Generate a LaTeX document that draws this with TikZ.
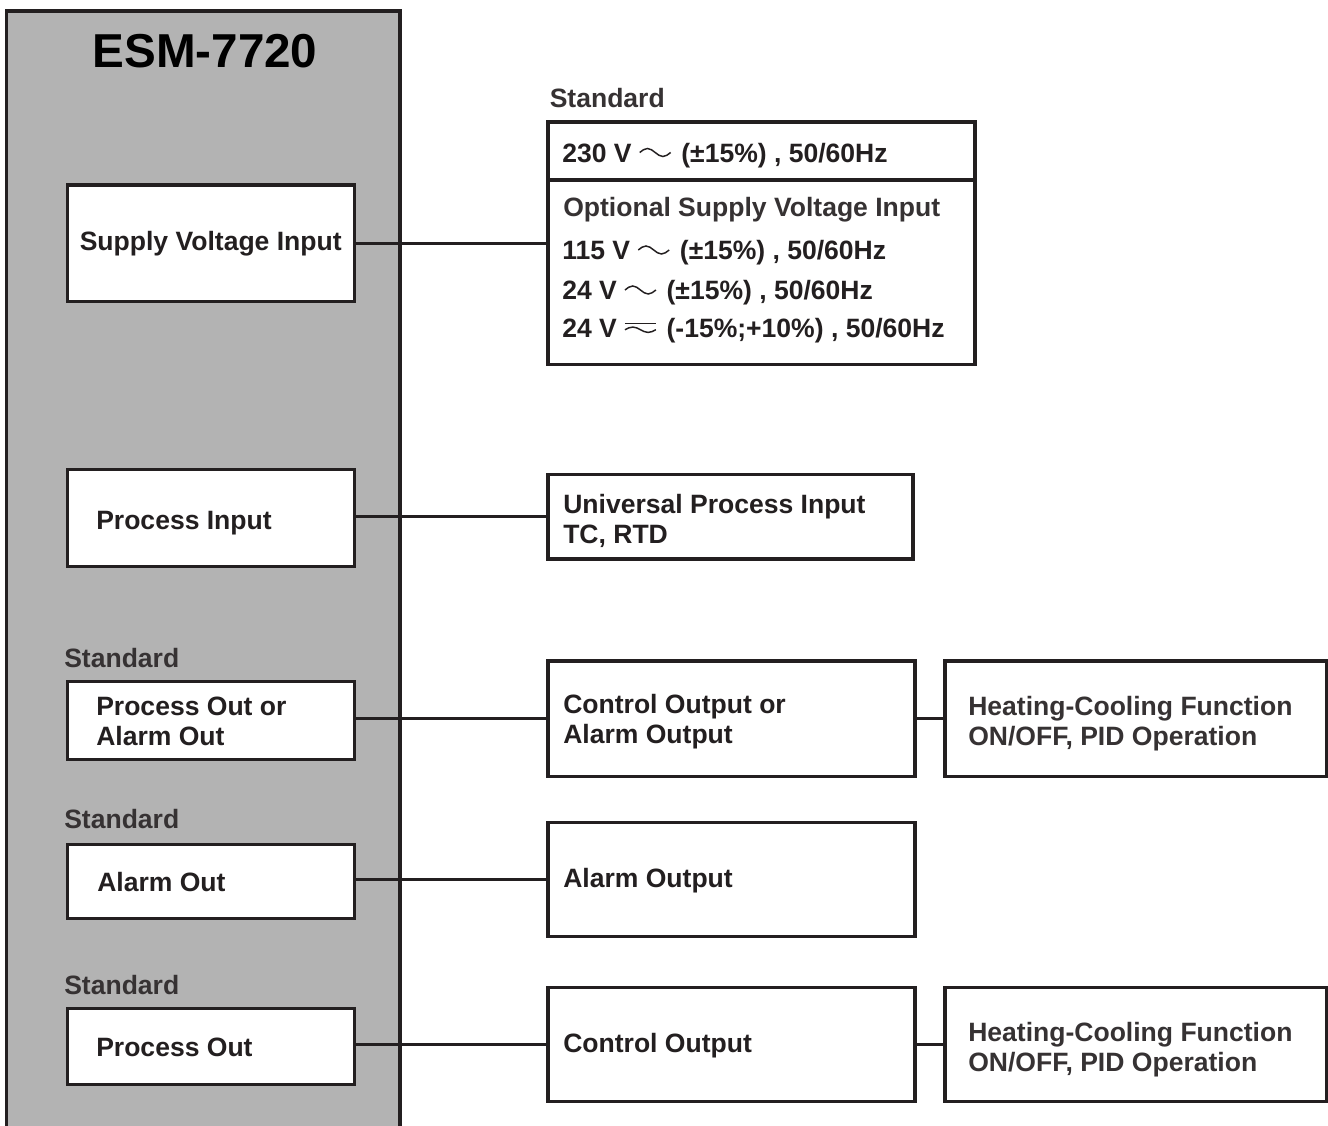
\documentclass[tikz,border=0pt]{standalone}
\usepackage{fontspec}
\setmainfont{Liberation Sans}
\usetikzlibrary{fit,calc}
\definecolor{ink}{HTML}{231F20}
\definecolor{inkl}{HTML}{363233}
\definecolor{panel}{HTML}{B3B3B3}
\newcommand{\acw}{\tikz[baseline=0pt,x=1pt,y=1pt]\draw[line width=1.1pt,ink] (0,7.5) sin (5.8,10.5) cos (11.6,7.5) sin (17.4,4.5) cos (23.2,7.5);}
\newcommand{\acdc}{\tikz[baseline=0pt,x=1pt,y=1pt]{\draw[line width=1.1pt,ink] (0,10.8) -- (23.2,10.8); \draw[line width=1.1pt,ink] (0,6.2) sin (5.8,8.2) cos (11.6,6.2) sin (17.4,4.2) cos (23.2,6.2);}}
\begin{document}
\begin{tikzpicture}[x=0.75pt,y=-0.75pt,
  box/.style={draw=ink, fill=white, inner sep=0pt, line width=2.4pt},
  lbl/.style={anchor=base west, inner sep=0pt, text=ink, font=\fontsize{19.9pt}{23pt}\selectfont\bfseries},
  lbll/.style={lbl, text=inkl},
  ttl/.style={anchor=base, inner sep=0pt, text=black, font=\fontsize{35.7pt}{40pt}\selectfont\bfseries},
  wire/.style={draw=ink, line width=2.4pt}]
\useasboundingbox (0,0) rectangle (1328,1126);
\begin{scope}
\clip (0,0) rectangle (1328,1126);
\fill[panel] (6.5,11) rectangle (400,1140);
\draw[ink, line width=2.6pt] (6.5,1140) -- (6.5,11) -- (400,11) -- (400,1140);
\end{scope}
\node[ttl] (title) at (205,68) {ESM-7720};
% left boxes
\node[box, fit={(67.5,185) (354.5,301.5)}] (sv) {};
\node[box, fit={(67.5,469.5) (354.5,566.5)}] (pin) {};
\node[box, fit={(67.5,681.5) (354.5,759.5)}] (poa) {};
\node[box, fit={(67.5,844.5) (354.5,918.5)}] (ao) {};
\node[box, fit={(67.5,1008.5) (354.5,1084.5)}] (po) {};
% right boxes
\node[box, fit={(548,122) (975,180)}] (std) {};
\node[box, fit={(548,180) (975,364.5)}] (opt) {};
\node[box, fit={(548,474.3) (913,559)}] (upi) {};
\node[box, fit={(548,661) (915,776.5)}] (coa) {};
\node[box, fit={(945,661) (1326.5,776.5)}] (hc1) {};
\node[box, fit={(548,822.5) (915,936.5)}] (aout) {};
\node[box, fit={(548,987.5) (915,1101.5)}] (cout) {};
\node[box, fit={(945,987.5) (1326.5,1101.5)}] (hc2) {};
% connectors
\draw[wire] (sv.east) -- (sv.east -| opt.west);
\draw[wire] (pin.east |- upi.west) -- (upi.west);
\draw[wire] (poa.east |- coa.west) -- (coa.west);
\draw[wire] (coa.east) -- (hc1.west);
\draw[wire] (ao.east |- aout.west) -- (aout.west);
\draw[wire] (po.east |- cout.west) -- (cout.west);
\draw[wire] (cout.east) -- (hc2.west);
% texts
\node[lbll] (s0) at (549.5,108) {Standard};
\node[lbl] (v1) at (562,162.5) {230 V \acw\hspace{7.5pt}(±15\%) , 50/60Hz};
\node[lbll] (v2) at (563,217) {Optional Supply Voltage Input};
\node[lbl] (v3) at (562,260) {115 V \acw\hspace{7.5pt}(±15\%) , 50/60Hz};
\node[lbl] (v4) at (562,300) {24 V \acw\hspace{7.5pt}(±15\%) , 50/60Hz};
\node[lbl] (v5) at (562,338) {24 V \acdc\hspace{7.5pt}(-15\%;+10\%) , 50/60Hz};
\node[lbl] (t1) at (79.5,251) {Supply Voltage Input};
\node[lbl] (t2) at (96,530) {Process Input};
\node[lbll] (s1) at (64,667) {Standard};
\node[lbl] (t3a) at (96,715) {Process Out or};
\node[lbl] (t3b) at (96,745) {Alarm Out};
\node[lbll] (s2) at (64,828) {Standard};
\node[lbl] (t4) at (97,891) {Alarm Out};
\node[lbll] (s3) at (64,994) {Standard};
\node[lbl] (t5) at (96,1056) {Process Out};
\node[lbl] (r1a) at (563,513) {Universal Process Input};
\node[lbl] (r1b) at (563,543) {TC, RTD};
\node[lbl] (r2a) at (563,713.5) {Control Output or};
\node[lbl] (r2b) at (563,743.5) {Alarm Output};
\node[lbll] (h1a) at (968,715.5) {Heating-Cooling Function};
\node[lbll] (h1b) at (968,745.5) {ON/OFF, PID Operation};
\node[lbl] (r3) at (563,887.5) {Alarm Output};
\node[lbl] (r4) at (563,1052.5) {Control Output};
\node[lbll] (h2a) at (968,1041.5) {Heating-Cooling Function};
\node[lbll] (h2b) at (968,1071.5) {ON/OFF, PID Operation};
\end{tikzpicture}
\end{document}
